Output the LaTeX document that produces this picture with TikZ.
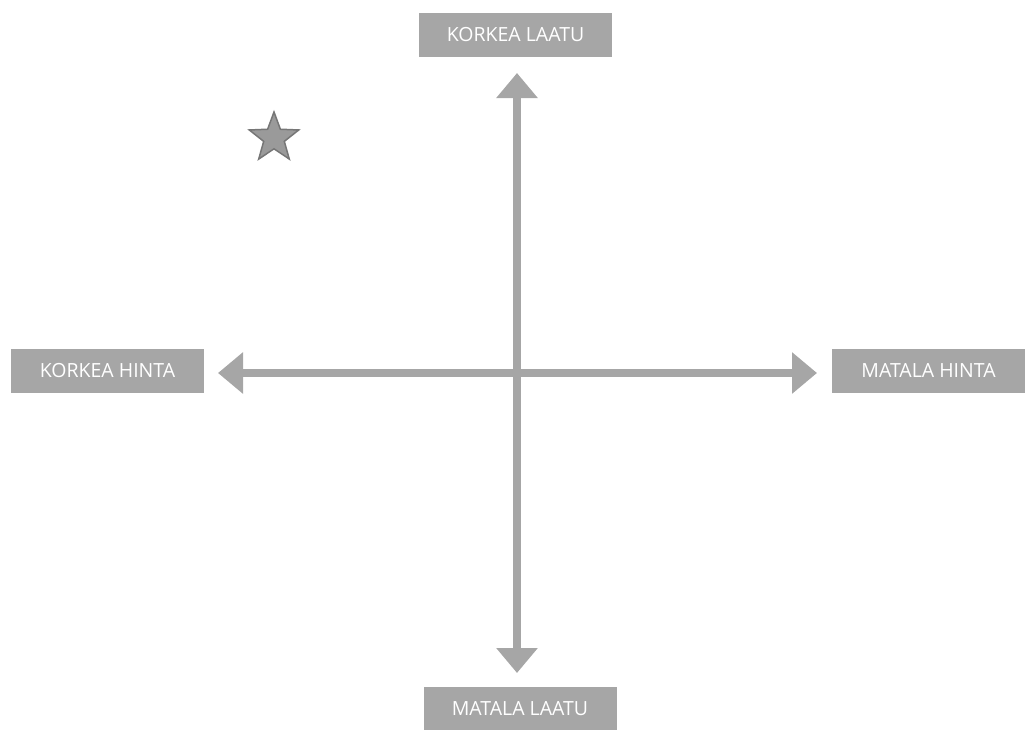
\documentclass[tikz,border=0pt]{standalone}
\usepackage{fontspec}
\setmainfont{Open Sans}
\usetikzlibrary{arrows.meta,shapes.geometric}
\definecolor{boxgray}{HTML}{A6A6A6}
\definecolor{stargray}{HTML}{9A9A9A}
\definecolor{stardark}{HTML}{767676}
\tikzset{
  label box/.style={fill=boxgray, draw=none, text=white, minimum width=193pt, minimum height=44pt, inner sep=0pt, font=\fontsize{19.5}{22}\selectfont},
  axis arrow/.style={draw=boxgray, line width=8pt, {Triangle[width=40pt,length=25pt]}-{Triangle[width=40pt,length=25pt]}}
}
\begin{document}
\begin{tikzpicture}[x=1pt,y=-1pt]
\useasboundingbox (0,0) rectangle (1025,729);
\node[label box] (top) at (515.5,34.5) {KORKEA LAATU};
\node[label box] (bottom) at (520,708.5) {MATALA LAATU};
\node[label box] (left) at (107.5,371) {KORKEA HINTA};
\node[label box] (right) at (928.5,371) {MATALA HINTA};
\coordinate (tTip) at (517,73);
\coordinate (bTip) at (517,673);
\coordinate (lTip) at (218,373);
\coordinate (rTip) at (817,373);
\draw[axis arrow] (tTip) -- (bTip);
\draw[axis arrow] (lTip) -- (rTip);
\node[star, star points=5, star point ratio=2.4, minimum size=52pt, inner sep=0pt, fill=stargray, draw=stardark, line width=1.5pt] (star) at (274,138) {};
\end{tikzpicture}
\end{document}
